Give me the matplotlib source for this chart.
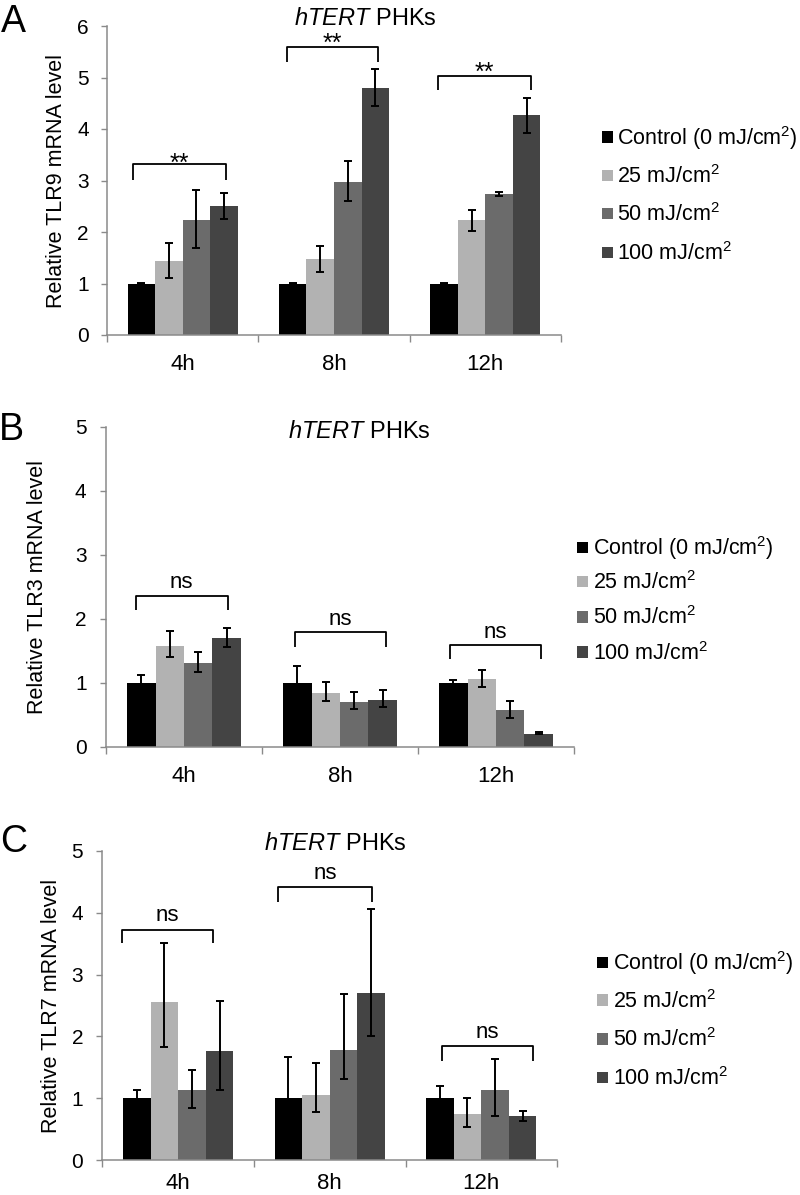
import matplotlib
matplotlib.use('Agg')
import matplotlib.pyplot as plt
from matplotlib.patches import Rectangle
import numpy as np

plt.rcParams['font.family'] = ['Liberation Sans', 'DejaVu Sans']
plt.rcParams['mathtext.fontset'] = 'custom'
plt.rcParams['mathtext.rm'] = 'Liberation Sans'
plt.rcParams['mathtext.it'] = 'Liberation Sans:italic'
plt.rcParams['mathtext.bf'] = 'Liberation Sans:bold'

# ---------------- data ----------------
time_points = ['4h', '8h', '12h']
dose_labels = ['Control (0 mJ/cm$^{2}$)', '25 mJ/cm$^{2}$', '50 mJ/cm$^{2}$', '100 mJ/cm$^{2}$']
bar_colors = ['#000000', '#b2b2b2', '#6b6b6b', '#444444']
title_text = r'$\mathit{hTERT}$ PHKs'

# Panel A: TLR9 (rows = dose, columns = time point)
tlr9_values = [[1.00, 1.00, 1.00],
               [1.44, 1.47, 2.23],
               [2.24, 2.98, 2.74],
               [2.50, 4.80, 4.27]]
tlr9_err_lo = [[0.01, 0.01, 0.01],
               [0.33, 0.24, 0.21],
               [0.56, 0.38, 0.04],
               [0.24, 0.36, 0.34]]
tlr9_err_hi = [[0.01, 0.01, 0.01],
               [0.34, 0.26, 0.20],
               [0.57, 0.39, 0.04],
               [0.26, 0.37, 0.34]]
tlr9_sig = ['**', '**', '**']
tlr9_bracket_top = [3.32, 5.59, 5.02]
tlr9_bracket_bottom = [3.01, 5.30, 4.75]
tlr9_sig_y = [3.19, 5.52, 4.96]

# Panel B: TLR3
tlr3_values = [[1.00, 1.00, 1.00],
               [1.58, 0.85, 1.06],
               [1.31, 0.70, 0.585],
               [1.70, 0.74, 0.21]]
tlr3_err_lo = [[0.12, 0.20, 0.04],
               [0.17, 0.13, 0.13],
               [0.14, 0.11, 0.13],
               [0.14, 0.12, 0.01]]
tlr3_err_hi = [[0.125, 0.27, 0.04],
               [0.23, 0.16, 0.14],
               [0.18, 0.16, 0.14],
               [0.16, 0.15, 0.02]]
tlr3_sig = ['ns', 'ns', 'ns']
tlr3_bracket_top = [2.36, 1.79, 1.60]
tlr3_bracket_bottom = [2.14, 1.57, 1.38]
tlr3_sig_y = [2.48, 1.91, 1.71]

# Panel C: TLR7
tlr7_values = [[1.00, 1.00, 1.00],
               [2.55, 1.05, 0.74],
               [1.14, 1.78, 1.13],
               [1.77, 2.70, 0.71]]
tlr7_err_lo = [[0.13, 0.40, 0.10],
               [0.72, 0.28, 0.20],
               [0.30, 0.47, 0.42],
               [0.63, 0.70, 0.08]]
tlr7_err_hi = [[0.13, 0.66, 0.19],
               [0.96, 0.52, 0.27],
               [0.31, 0.90, 0.50],
               [0.81, 1.36, 0.08]]
tlr7_sig = ['ns', 'ns', 'ns']
tlr7_bracket_top = [3.72, 4.41, 1.84]
tlr7_bracket_bottom = [3.51, 4.17, 1.61]
tlr7_sig_y = [3.86, 4.55, 1.97]

# ---------------- layout ----------------
W, H = 800, 1195
fig = plt.figure(figsize=(W / 100, H / 100), dpi=100)
fig.patch.set_facecolor('white')


def fx(px):
    return px / W


def fy(py):
    return 1 - py / H


panels = [
    dict(letter='A', ylabel='Relative TLR9 mRNA level', ymax=6,
         vals=tlr9_values, lo=tlr9_err_lo, hi=tlr9_err_hi, sig=tlr9_sig,
         btop=tlr9_bracket_top, bbot=tlr9_bracket_bottom, sigy=tlr9_sig_y, sigsize=18,
         bx=[(-0.33, 0.285), (-0.31, 0.29), (-0.31, 0.30)],
         rect=(107, 26, 561, 335), ylab_x=-0.112, ypad=9.0, xpad=13.5,
         title=(365, 25), letter_pos=(1, 32),
         legend=dict(mx=601.7, tx=617, rows=[137, 175.5, 213.7, 252.5])),
    dict(letter='B', ylabel='Relative TLR3 mRNA level', ymax=5,
         vals=tlr3_values, lo=tlr3_err_lo, hi=tlr3_err_hi, sig=tlr3_sig,
         btop=tlr3_bracket_top, bbot=tlr3_bracket_bottom, sigy=tlr3_sig_y, sigsize=16,
         bx=[(-0.31, 0.28), (-0.29, 0.295), (-0.295, 0.29)],
         rect=(106, 427, 574, 747), ylab_x=-0.146, ypad=10.0, xpad=13.5,
         title=(359, 438), letter_pos=(-1, 440),
         legend=dict(mx=576.7, tx=593, rows=[547.5, 581.7, 617, 652])),
    dict(letter='C', ylabel='Relative TLR7 mRNA level', ymax=5,
         vals=tlr7_values, lo=tlr7_err_lo, hi=tlr7_err_hi, sig=tlr7_sig,
         btop=tlr7_bracket_top, bbot=tlr7_bracket_bottom, sigy=tlr7_sig_y, sigsize=16,
         bx=[(-0.37, 0.23), (-0.34, 0.28), (-0.26, 0.34)],
         rect=(102.5, 851, 557, 1160), ylab_x=-0.112, ypad=10.0, xpad=9.4,
         title=(335, 850), letter_pos=(0, 852),
         legend=dict(mx=596.7, tx=612.7, rows=[962.5, 1000, 1039, 1077.5])),
]

axis_grey = '#8a8a8a'
bar_w = 0.182
offsets = (np.arange(4) - 1.5) * bar_w
centers = np.arange(len(time_points)) + 0.5

for p in panels:
    x0, y0, x1, y1 = p['rect']
    ax = fig.add_axes([fx(x0), fy(y1), (x1 - x0) / W, (y1 - y0) / H])
    for i in range(4):
        xs = centers + offsets[i]
        ax.bar(xs, p['vals'][i], width=bar_w, color=bar_colors[i], edgecolor='none',
               zorder=2)
        ax.errorbar(xs, p['vals'][i], yerr=[p['lo'][i], p['hi'][i]], fmt='none',
                    ecolor='black', elinewidth=1.4, capsize=3, capthick=1.4, zorder=3)
    # significance brackets
    for g in range(len(time_points)):
        xl = centers[g] + p['bx'][g][0]
        xr = centers[g] + p['bx'][g][1]
        ax.plot([xl, xl, xr, xr], [p['bbot'][g], p['btop'][g], p['btop'][g], p['bbot'][g]],
                color='black', lw=1.3, solid_joinstyle='round', solid_capstyle='butt',
                zorder=4, clip_on=False)
        ax.text((xl + xr) / 2, p['sigy'][g], p['sig'][g], ha='center', va='baseline',
                fontsize=p['sigsize'], color='black', clip_on=False)
    ax.set_xlim(0, len(time_points))
    ax.set_ylim(0, p['ymax'])
    ax.set_yticks(range(0, p['ymax'] + 1))
    ax.tick_params(axis='y', which='major', direction='out', length=4, width=1,
                   color=axis_grey, labelsize=15, pad=p['ypad'])
    ax.set_xticks([0, 1, 2, 3])
    ax.set_xticklabels([])
    ax.set_xticks(centers, minor=True)
    ax.set_xticklabels(time_points, minor=True)
    ax.tick_params(axis='x', which='major', direction='out', length=5, width=1,
                   color=axis_grey)
    ax.tick_params(axis='x', which='minor', length=0, labelsize=16, pad=p['xpad'])
    for s in ['top', 'right']:
        ax.spines[s].set_visible(False)
    for s in ['left', 'bottom']:
        ax.spines[s].set_color(axis_grey)
        ax.spines[s].set_linewidth(1.1)
    ax.set_ylabel(p['ylabel'], fontsize=15.5, va='center')
    ax.yaxis.set_label_coords(p['ylab_x'], 0.5)
    ax.set_facecolor('white')

    # title and panel letter
    tx, ty = p['title']
    fig.text(fx(tx), fy(ty), title_text, ha='center', va='baseline', fontsize=17)
    lx, ly = p['letter_pos']
    fig.text(fx(lx), fy(ly), p['letter'], ha='left', va='baseline', fontsize=27)

    # legend
    lg = p['legend']
    msize = 11.3
    for i, yc in enumerate(lg['rows']):
        fig.add_artist(Rectangle((fx(lg['mx']), fy(yc + msize / 2)), msize / W, msize / H,
                                 transform=fig.transFigure, facecolor=bar_colors[i],
                                 edgecolor='none'))
        fig.text(fx(lg['tx']), fy(yc + 7.5), dose_labels[i], ha='left', va='baseline',
                 fontsize=15.5)

fig.savefig('out.png', dpi=100, facecolor='white')
